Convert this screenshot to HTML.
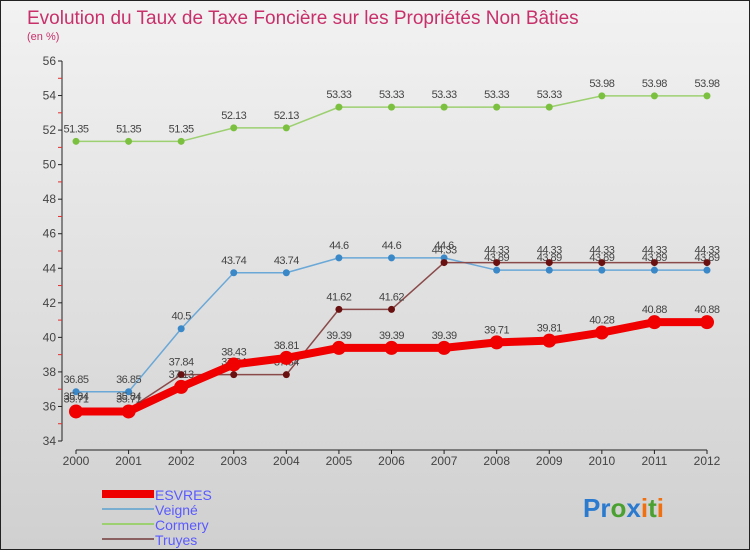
<!DOCTYPE html>
<html><head><meta charset="utf-8"><style>
body{margin:0;width:750px;height:550px;overflow:hidden;font-family:"Liberation Sans",sans-serif}
#c{position:relative;width:748px;height:548px;border:1px solid #222;background:linear-gradient(#f2f2f2,#d0d0d0)}
</style></head><body>
<div id="c">
<svg id="s" width="748" height="548" xmlns="http://www.w3.org/2000/svg">
<text x="26" y="23" font-size="19" fill="#c8306a">Evolution du Taux de Taxe Foncière sur les Propriétés Non Bâties</text>
<text x="26" y="39" font-size="11" fill="#c8306a">(en %)</text>
<g id="axes"></g><g id="series"></g>
<g>
<rect x="101" y="489" width="52" height="8" fill="#e00"/>
<text x="154" y="499" font-size="14" fill="#5a5aff">ESVRES</text>
<rect x="101" y="507" width="52" height="2" fill="#7aaed0"/>
<text x="154" y="514" font-size="14" fill="#5a5aff">Veigné</text>
<rect x="101" y="522" width="52" height="2" fill="#9cd070"/>
<text x="154" y="529" font-size="14" fill="#5a5aff">Cormery</text>
<rect x="101" y="537" width="52" height="2" fill="#8a6060"/>
<text x="154" y="544" font-size="14" fill="#5a5aff">Truyes</text>
</g>
<text x="582" y="516" font-size="26" font-weight="bold"><tspan fill="#2a7ad0">Pr</tspan><tspan fill="#4aa030">o</tspan><tspan fill="#2a7ad0">x</tspan><tspan fill="#f07010">i</tspan><tspan fill="#4aa030">t</tspan><tspan fill="#f07010">i</tspan></text>
</svg></div>
<script>
const years=[2000,2001,2002,2003,2004,2005,2006,2007,2008,2009,2010,2011,2012];
const yTicks=[34,36,38,40,42,44,46,48,50,52,54,56];
const esvres=[35.71,35.71,37.13,38.43,38.81,39.39,39.39,39.39,39.71,39.81,40.28,40.88,40.88];
const veigne=[36.85,36.85,40.5,43.74,43.74,44.6,44.6,44.6,43.89,43.89,43.89,43.89,43.89];
const cormery=[51.35,51.35,51.35,52.13,52.13,53.33,53.33,53.33,53.33,53.33,53.98,53.98,53.98];
const truyes=[35.84,35.84,37.84,37.84,37.84,41.62,41.62,44.33,44.33,44.33,44.33,44.33,44.33];
const NS="http://www.w3.org/2000/svg";
const X=i=>75+i*(631/(years.length-1));
const Y=v=>440-(v-34)*(380/22);
function mk(t,a,p){const e=document.createElementNS(NS,t);for(const k in a)e.setAttribute(k,a[k]);p.appendChild(e);return e;}
const ax=document.getElementById('axes'),sg=document.getElementById('series');
let l=mk('line',{x1:61,y1:Y(56),x2:61,y2:Y(34),stroke:'#222'},ax);

yTicks.forEach((v,i)=>{
 mk('line',{x1:57,y1:Y(v),x2:61,y2:Y(v),stroke:'#222'},ax);
 if(i<yTicks.length-1)mk('line',{x1:57,y1:Y(v+1),x2:61,y2:Y(v+1),stroke:'#e03030'},ax);
 const t=mk('text',{x:55,y:Y(v)+4,'font-size':12,fill:'#444','text-anchor':'end'},ax);t.textContent=v;
 
 
});
l=mk('line',{x1:X(0),y1:449,x2:X(12),y2:449,stroke:'#222'},ax);

years.forEach((y,i)=>{
 mk('line',{x1:X(i),y1:449,x2:X(i),y2:453,stroke:'#222'},ax);
 const t=mk('text',{x:X(i),y:464,'font-size':12,fill:'#444','text-anchor':'middle'},ax);t.textContent=y;
 
 
});
function draw(data,name,col,dot,w,r){
 const g=mk('g',{},sg);
 
 
 mk('polyline',{points:data.map((v,i)=>X(i)+','+Y(v)).join(' '),fill:'none',stroke:col,'stroke-width':w,'stroke-linejoin':'round'},g);
 data.forEach((v,i)=>{
  const c=mk('circle',{cx:X(i),cy:Y(v),r:r,fill:dot},g);
  
  
  const t=mk('text',{x:X(i),y:Y(v)-9,'font-size':11,fill:'#444','text-anchor':'middle','letter-spacing':'-0.5'},g);t.textContent=v;
  
  
 });
}
draw(cormery,'cormery','#9cd070','#7cc040',1.5,3.5);
draw(veigne,'veigne','#6aa8d8','#3a88c8',1.5,3.5);
draw(truyes,'truyes','#8a4a4a','#6a1010',1.5,3.5);
draw(esvres,'esvres','#f00000','#f00000',8,7);
</script>
</body></html>
